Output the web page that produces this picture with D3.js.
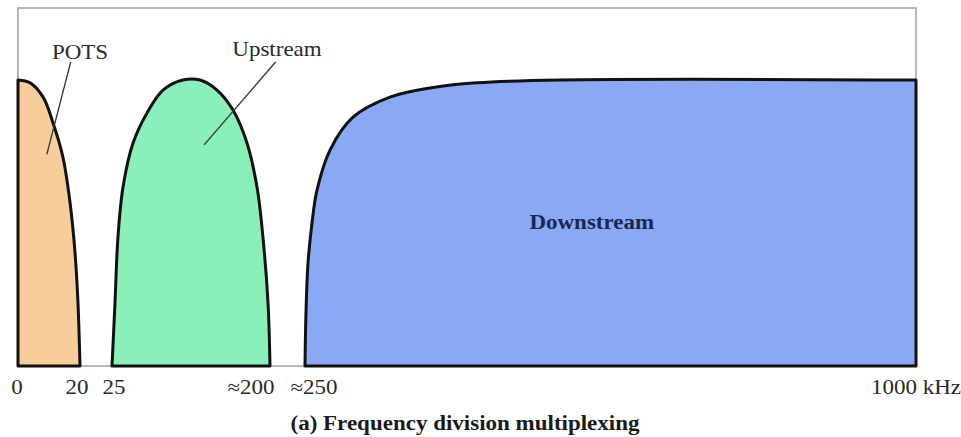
<!DOCTYPE html>
<html>
<head>
<meta charset="utf-8">
<script src="https://cdn.jsdelivr.net/npm/d3@7/dist/d3.min.js"></script>
<style>
  html, body { margin: 0; padding: 0; background: #fff; }
  svg { display: block; }
  text { font-family: "Liberation Serif", "DejaVu Serif", serif; }
</style>
</head>
<body>
<svg id="chart" width="961" height="437"></svg>
<script>
// ---------- data ----------
const bandNames = ["POTS", "Upstream", "Downstream"];
const bandColors = ["#f7cd9b", "#89f0b9", "#89a9f4"];
// spectrum outlines: [frequency kHz, relative level]
const potsCurve = [[0, 1.0], [3.9, 0.99], [8.1, 0.94], [11.3, 0.85], [14.5, 0.73], [16.8, 0.57], [18.4, 0.395], [19.35, 0.22], [20, 0]];
const upstreamCurve = [[25, 0], [28.3, 0.22], [31.6, 0.45], [37.2, 0.626], [48.3, 0.78], [63.8, 0.885], [81.5, 0.965], [103.6, 1.0], [122.5, 1.0], [141.3, 0.965], [159.0, 0.895], [174.5, 0.78], [185.6, 0.626], [192.2, 0.45], [197.8, 0.22], [200, 0]];
const downstreamCurve = [[250, 0], [251.2, 0.185], [253.7, 0.36], [258.6, 0.5], [264.7, 0.615], [280.7, 0.755], [308.9, 0.87], [354.3, 0.94], [403.4, 0.972], [461.1, 0.99], [563, 1.0], [1000, 1.0]];
const bandCurves = [potsCurve, upstreamCurve, downstreamCurve];
// label anchor points (frequency, level) for the band names
const bandLabelAt = [[20, 1.075], [210, 1.085], [602, 0.48]];
// leader lines: [from freq, from level, to freq, to level]
const leaders = [[[17.0, 1.063], [9.3, 0.74]], [[208, 1.063], [127, 0.773]]];
const tickValues = [0, 20, 25, 200, 250, 1000];
const tickLabels = ["0", "20", "25", "\u2248200", "\u2248250", "1000 kHz"];
const title = "(a) Frequency division multiplexing";

// ---------- styling ----------
const tickLabelShift = [-1, -3, 2, -19, 9, 0];
const textScaleX = 1.15;

const svg = d3.select("#chart");

// piecewise (schematic, not to scale) frequency axis
const x = d3.scaleLinear()
  .domain(tickValues)
  .range([18, 80, 112, 270, 305, 916]);
const y = d3.scaleLinear().domain([0, 1]).range([366, 80]);
const yTop = 8;

// frame
svg.append("rect")
  .attr("x", x(0)).attr("y", yTop)
  .attr("width", x(1000) - x(0)).attr("height", y(0) - yTop)
  .attr("fill", "none").attr("stroke", "#9a9a9a").attr("stroke-width", 1.4);

// bands
const area = d3.area()
  .x(d => x(d[0]))
  .y0(y(0))
  .y1(d => y(d[1]))
  .curve(d3.curveCatmullRom.alpha(0.5));

svg.append("g").selectAll("path")
  .data(bandCurves)
  .join("path")
  .attr("d", d => area(d))
  .attr("fill", (d, i) => bandColors[i])
  .attr("stroke", "#111")
  .attr("stroke-width", 3)
  .attr("stroke-linejoin", "round");

// leader lines
svg.append("g").selectAll("line")
  .data(leaders)
  .join("line")
  .attr("x1", d => x(d[0][0])).attr("y1", d => y(d[0][1]))
  .attr("x2", d => x(d[1][0])).attr("y2", d => y(d[1][1]))
  .attr("stroke", "#333").attr("stroke-width", 1.3);

// band labels
svg.append("g").selectAll("text")
  .data(bandNames)
  .join("text")
  .attr("transform", (d, i) => `translate(${x(bandLabelAt[i][0])},${y(bandLabelAt[i][1])}) scale(${textScaleX},1)`)
  .attr("text-anchor", "middle")
  .attr("font-size", 20)
  .attr("font-weight", (d, i) => i === 2 ? "bold" : "normal")
  .attr("fill", (d, i) => i === 2 ? "#1c2750" : "#2a2a2a")
  .text(d => d);

// tick labels
svg.append("g").selectAll("text")
  .data(tickValues)
  .join("text")
  .attr("transform", (d, i) => `translate(${x(d) + tickLabelShift[i]},394) scale(${textScaleX},1)`)
  .attr("text-anchor", "middle")
  .attr("font-size", 20)
  .attr("fill", "#2a2a2a")
  .text((d, i) => tickLabels[i]);

// title
svg.append("text")
  .attr("transform", `translate(465,430) scale(${textScaleX},1)`)
  .attr("text-anchor", "middle")
  .attr("font-size", 20)
  .attr("font-weight", "bold")
  .attr("fill", "#1a1a1a")
  .text(title);
</script>
</body>
</html>
